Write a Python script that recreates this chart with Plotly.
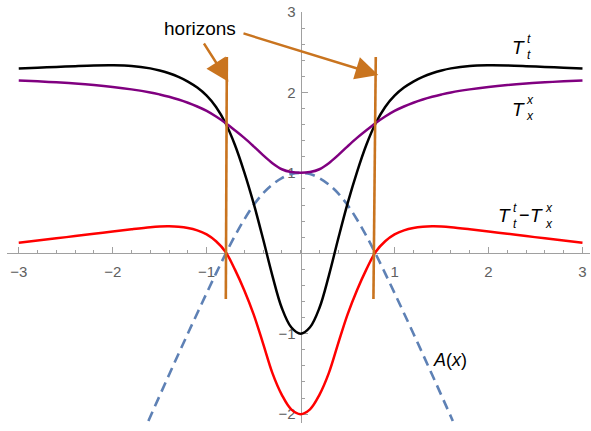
import plotly.graph_objects as go

# ---- curve samples -------------------------------------------------------
# shared x grid for the three stress-energy curves
grid_x = [-3.0, -2.8, -2.6, -2.4, -2.2, -2.0, -1.8, -1.6, -1.5, -1.4, -1.3, -1.2,
          -1.1, -1.0, -0.9, -0.8, -0.7, -0.6, -0.5, -0.4, -0.3, -0.2, -0.1, 0.0,
          0.1, 0.2, 0.3, 0.4, 0.5, 0.6, 0.7, 0.8, 0.9, 1.0, 1.1, 1.2, 1.3, 1.4,
          1.5, 1.6, 1.8, 2.0, 2.2, 2.4, 2.6, 2.8, 3.0]

# T^t_t (black)
tt_y = [2.297, 2.307, 2.317, 2.327, 2.335, 2.337, 2.329, 2.299, 2.273, 2.238, 2.193, 2.135,
        2.06, 1.96, 1.82, 1.62, 1.35, 1.01, 0.62, 0.18, -0.28, -0.68, -0.92, -1.0,
        -0.92, -0.68, -0.28, 0.18, 0.62, 1.01, 1.35, 1.62, 1.82, 1.96, 2.06, 2.135, 2.193, 2.238,
        2.273, 2.299, 2.329, 2.337, 2.335, 2.327, 2.317, 2.307, 2.297]

# T^x_x (purple)
xx_y = [2.148, 2.138, 2.126, 2.111, 2.092, 2.068, 2.038, 2.0, 1.975, 1.946, 1.912, 1.872,
        1.825, 1.77, 1.70, 1.62, 1.53, 1.435, 1.33, 1.22, 1.12, 1.045, 1.01, 1.0,
        1.01, 1.045, 1.12, 1.22, 1.33, 1.435, 1.53, 1.62, 1.70, 1.77, 1.825, 1.872, 1.912, 1.946,
        1.975, 2.0, 2.038, 2.068, 2.092, 2.111, 2.126, 2.138, 2.148]

# T^t_t - T^x_x (red)
diff_y = [0.132, 0.158, 0.186, 0.214, 0.243, 0.272, 0.30, 0.325, 0.333, 0.335, 0.33, 0.315,
          0.285, 0.235, 0.15, 0.02, -0.20, -0.46, -0.76, -1.12, -1.49, -1.76, -1.94, -2.0,
          -1.94, -1.76, -1.49, -1.12, -0.76, -0.46, -0.20, 0.02, 0.15, 0.235, 0.285, 0.315, 0.33, 0.335,
          0.333, 0.325, 0.30, 0.272, 0.243, 0.214, 0.186, 0.158, 0.132]

# A(x) (dashed blue)
a_x = [-1.62, -1.5, -1.4, -1.3, -1.2, -1.1, -1.0, -0.9, -0.8, -0.7, -0.6, -0.5, -0.4,
       -0.3, -0.2, -0.1, 0.0, 0.1, 0.2, 0.3, 0.4, 0.5, 0.6, 0.7, 0.8, 0.9, 1.0,
       1.1, 1.2, 1.3, 1.4, 1.5, 1.62]
a_y = [-2.085, -1.77, -1.51, -1.252, -0.997, -0.745, -0.495, -0.25, -0.01, 0.215, 0.42, 0.60, 0.745,
       0.855, 0.935, 0.985, 1.0, 0.985, 0.935, 0.855, 0.745, 0.60, 0.42, 0.215, -0.01, -0.25, -0.495,
       -0.745, -0.997, -1.252, -1.51, -1.77, -2.085]

# horizon markers: vertical segments (x at top, x at bottom) and their y extent
horizon_top_x = [-0.785, 0.80]
horizon_bot_x = [-0.796, 0.775]
horizon_y = [2.44, -0.568]

# axis ticks
x_ticks = [-3, -2, -1, 1, 2, 3]
y_ticks = [-2, -1, 1, 2, 3]
x_range = [-3.125, 3.08]
y_range = [-2.11, 3.0]

AXIS_GREY = "#a0a0a0"
LABEL_GREY = "#606060"
ORANGE = "#c9741f"
FONT = "Liberation Sans, Arial, sans-serif"


def fmt(v):
    return ("\u2212" if v < 0 else "") + str(abs(v))


fig = go.Figure()

fig.add_trace(go.Scatter(x=a_x, y=a_y, mode="lines",
                         line=dict(color="#5e81b5", width=2.6, dash="10px,6px",
                                   shape="spline", smoothing=1.0),
                         hoverinfo="skip"))
for ys, col in [(tt_y, "black"), (xx_y, "#800080"), (diff_y, "#ff0000")]:
    fig.add_trace(go.Scatter(x=grid_x, y=ys, mode="lines",
                             line=dict(color=col, width=2.5, shape="spline", smoothing=1.0),
                             hoverinfo="skip"))
for xt, xb in zip(horizon_top_x, horizon_bot_x):
    fig.add_trace(go.Scatter(x=[xt, xb], y=horizon_y, mode="lines",
                             line=dict(color=ORANGE, width=2.6), hoverinfo="skip"))

annotations = []

# "horizons" callout with two arrows
annotations.append(dict(x=-1.07, y=2.80, xref="x", yref="y", text="horizons",
                        showarrow=False, font=dict(family=FONT, size=19, color="black")))
for (tx, ty), (hx, hy) in [((-1.039, 2.627), (-0.769, 2.133)),
                           ((-0.624, 2.739), (0.827, 2.217))]:
    annotations.append(dict(x=hx, y=hy, ax=tx, ay=ty, xref="x", yref="y",
                            axref="x", ayref="y", text="", showarrow=True,
                            arrowhead=2, arrowsize=1.9, arrowwidth=2.4,
                            arrowcolor=ORANGE, standoff=0))


def label(x, y, parts):
    """Place italic text pieces; each part is (text, xshift, yshift, size)."""
    for text, dx, dy, size in parts:
        annotations.append(dict(x=x, y=y, xref="x", yref="y", text=text,
                                showarrow=False, xanchor="left", yanchor="middle",
                                xshift=dx, yshift=dy, borderpad=0,
                                font=dict(family=FONT, size=size, color="black")))


def stacked(sup, sub):
    return "<i>%s</i><br><i>%s</i>" % (sup, sub)


label(2.235, 2.559, [("<i>T</i>", 0, 0, 19), (stacked("t", "t"), 15, 0, 12)])
label(2.235, 1.794, [("<i>T</i>", 0, 0, 19), (stacked("x", "x"), 14, 1, 12)])
label(2.085, 0.470, [("<i>T</i>", 0, 0, 19), (stacked("t", "t"), 15, -1, 12),
                     ("\u2212", 21, 0, 18), ("<i>T</i>", 32, 0, 19),
                     (stacked("x", "x"), 47, -1, 12)])
annotations.append(dict(x=1.59, y=-1.327, xref="x", yref="y", text="<i>A</i>(<i>x</i>)",
                        showarrow=False, font=dict(family=FONT, size=18, color="black")))

fig.update_layout(
    width=591, height=431, autosize=False,
    margin=dict(l=7, r=1, t=12, b=8),
    paper_bgcolor="white", plot_bgcolor="white",
    showlegend=False,
    annotations=annotations,
    xaxis=dict(range=x_range, showgrid=False, zeroline=False,
               showline=True, linecolor=AXIS_GREY, linewidth=1.2,
               anchor="free",
               position=(0 - y_range[0]) / (y_range[1] - y_range[0]),
               tickmode="array", tickvals=x_ticks, ticktext=[fmt(v) for v in x_ticks],
               ticks="inside", ticklen=6, tickwidth=1, tickcolor=AXIS_GREY,
               minor=dict(ticks="inside", ticklen=3.5, tickcolor=AXIS_GREY,
                          dtick=0.2, tick0=0, showgrid=False),
               tickfont=dict(family=FONT, size=15, color=LABEL_GREY),
               ticklabelstandoff=5,
               layer="below traces", fixedrange=True),
    yaxis=dict(range=y_range, showgrid=False, zeroline=False,
               showline=True, linecolor=AXIS_GREY, linewidth=1.2,
               anchor="free",
               position=(0 - x_range[0]) / (x_range[1] - x_range[0]),
               tickmode="array", tickvals=y_ticks, ticktext=[fmt(v) for v in y_ticks],
               ticks="inside", ticklen=6, tickwidth=1, tickcolor=AXIS_GREY,
               minor=dict(ticks="inside", ticklen=3.5, tickcolor=AXIS_GREY,
                          dtick=0.2, tick0=0, showgrid=False),
               tickfont=dict(family=FONT, size=15, color=LABEL_GREY),
               ticklabelstandoff=2,
               layer="below traces", fixedrange=True),
)

fig.write_html("out.html", config={"displayModeBar": False})
